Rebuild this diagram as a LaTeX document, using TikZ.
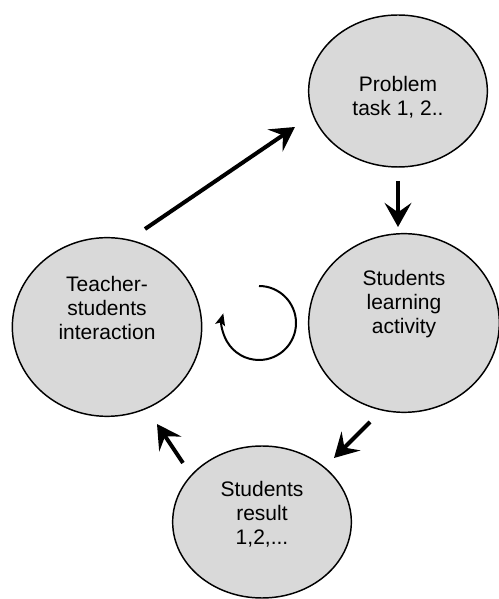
\documentclass[tikz,border=0pt]{standalone}
\usepackage{fontspec}
\setmainfont{Liberation Sans}
\usetikzlibrary{shapes.geometric, arrows.meta}
\usepackage{xcolor}
\definecolor{bubblegray}{RGB}{217, 217, 217}
\definecolor{inkdark}{RGB}{0, 0, 0}

\begin{document}
\begin{tikzpicture}[
    x=0.75pt, y=0.75pt,
    bubble/.style={ellipse, draw=inkdark, fill=bubblegray, inner sep=0pt, line width=1.1pt},
    txt/.style={align=center, inner sep=0pt, font=\fontsize{15.75}{18}\selectfont, text=inkdark},
    arrow/.style={-{Stealth[length=18pt, width=20pt, inset=7pt]}, line width=3pt, color=inkdark},
    cyclearrow/.style={-{Stealth[length=9pt, width=7.5pt, inset=2pt]}, line width=1.5pt, color=inkdark}
]
\useasboundingbox (0,0) rectangle (499,599);

% Problem task
\node[bubble, minimum width=134pt, minimum height=114pt] (problem) at (398, 508) {};
\node[txt] (problemtxt) at ([shift={(0,-6.5)}]problem.center) {Problem\\task 1, 2..};

% Students learning activity
\node[bubble, minimum width=143pt, minimum height=134pt] (activity) at (404, 276) {};
\node[txt] (activitytxt) at ([shift={(0,19)}]activity.center) {Students\\learning\\activity};

% Students result
\node[bubble, minimum width=134pt, minimum height=114pt] (result) at (262, 77) {};
\node[txt] (resulttxt) at ([shift={(0,8)}]result.center) {Students\\result\\1,2,...};

% Teacher-students interaction
\node[bubble, minimum width=142pt, minimum height=134pt] (teacher) at (107, 272) {};
\node[txt] (teachertxt) at ([shift={(0,19)}]teacher.center) {Teacher-\\students\\interaction};

% Arrows
\draw[arrow] ([shift={(38,98)}]teacher.center) -- ([shift={(-103,-36)}]problem.center);
\draw[arrow] ([shift={(0,-90)}]problem.center) -- ([shift={(-6,96)}]activity.center);
\draw[arrow] ([shift={(-34,-99)}]activity.center) -- ([shift={(72,64)}]result.center);
\draw[arrow] ([shift={(-79,59)}]result.center) -- ([shift={(50,-97)}]teacher.center);

% Cycle sign
\draw[cyclearrow] (259, 313) arc[start angle=90, end angle=-195, radius=37];

\end{tikzpicture}
\end{document}
